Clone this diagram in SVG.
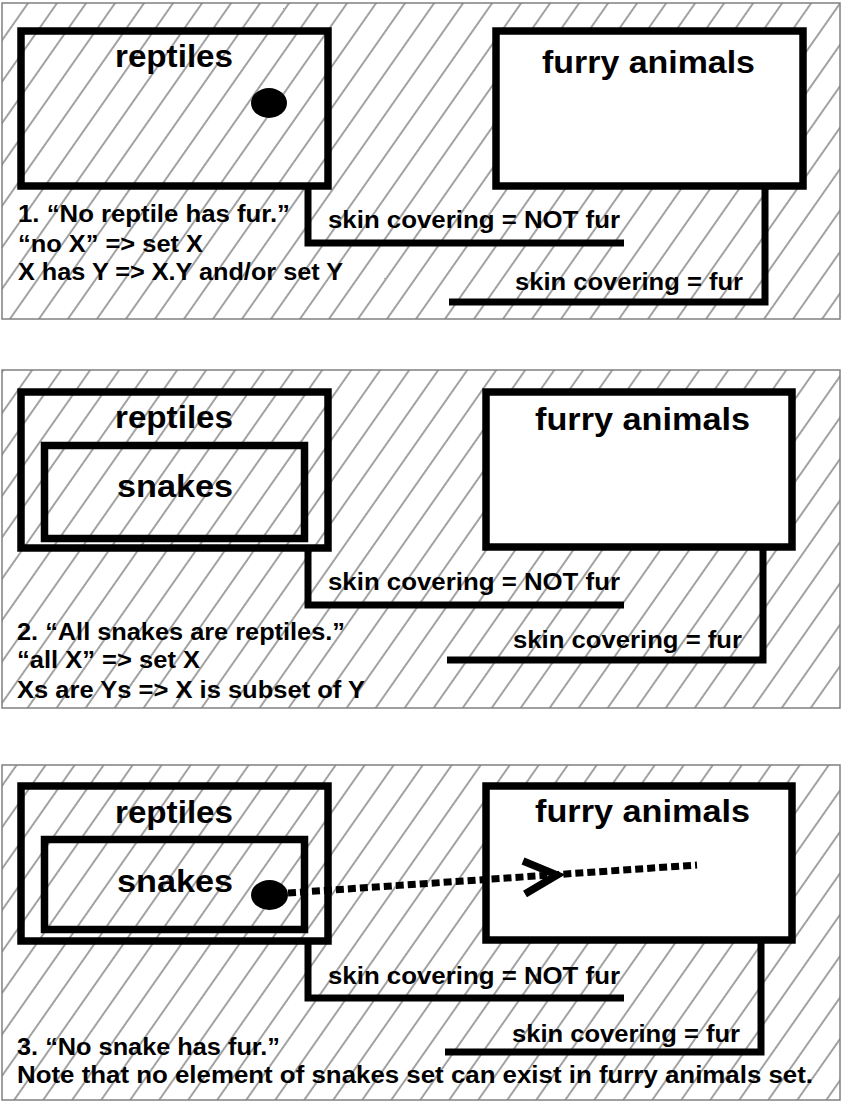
<svg xmlns="http://www.w3.org/2000/svg" width="842" height="1101" viewBox="0 0 842 1101">
<defs>
  <pattern id="hatch" patternUnits="userSpaceOnUse" width="23.76" height="20" patternTransform="rotate(35)">
    <line x1="1" y1="-2" x2="1" y2="22" stroke="#555" stroke-width="1.1"/>
  </pattern>
</defs>
<style>
  .panel { fill: url(#hatch); stroke: #808080; stroke-width: 1.5; }
  .set { fill: none; stroke: #000; stroke-width: 7.5; stroke-linejoin: miter; }
  .setw { fill: #fff; stroke: #000; stroke-width: 7.5; stroke-linejoin: miter; }
  .conn { fill: none; stroke: #000; stroke-width: 7; stroke-linejoin: miter; }
  .dots { fill: none; stroke: #000; stroke-width: 7; stroke-dasharray: 8 4; }
  .head { fill: none; stroke: #000; stroke-width: 7.5; stroke-linejoin: miter; stroke-linecap: butt; }
  text { font-family: "Liberation Sans", Arial, sans-serif; font-weight: bold; fill: #000; }
  .title { font-size: 31px; }
  .lbl { font-size: 23px; }
</style>

<g id="panel1">
  <rect class="panel" x="2" y="3" width="838" height="316"/>
</g>
<g id="panel2">
  <rect class="panel" x="2" y="370" width="838" height="338"/>
</g>
<g id="panel3">
  <rect class="panel" x="2" y="765" width="838" height="335"/>
</g>

<!-- Panel 1 nodes -->
<g id="p1-reptiles">
  <rect class="set" x="21" y="31" width="307" height="155"/>
  <text class="title" x="115" y="67" textLength="118" lengthAdjust="spacingAndGlyphs">reptiles</text>
  <ellipse cx="269" cy="103" rx="18" ry="15" fill="#000"/>
</g>
<g id="p1-furry">
  <rect class="setw" x="496" y="31" width="307" height="155"/>
  <text class="title" x="542" y="73" textLength="213" lengthAdjust="spacingAndGlyphs">furry animals</text>
</g>
<g id="p1-note">
  <text class="lbl" x="18" y="222" textLength="272" lengthAdjust="spacingAndGlyphs">1. “No reptile has fur.”</text>
  <text class="lbl" x="18" y="252" textLength="185" lengthAdjust="spacingAndGlyphs">“no X” =&gt; set X</text>
  <text class="lbl" x="18" y="280" textLength="325" lengthAdjust="spacingAndGlyphs">X has Y =&gt; X.Y and/or set Y</text>
</g>

<!-- Panel 2 nodes -->
<g id="p2-reptiles">
  <rect class="set" x="21" y="392" width="307" height="156"/>
  <text class="title" x="115" y="428" textLength="118" lengthAdjust="spacingAndGlyphs">reptiles</text>
</g>
<g id="p2-snakes">
  <rect class="set" x="44.5" y="445.5" width="260" height="93"/>
  <text class="title" x="117" y="497" textLength="116" lengthAdjust="spacingAndGlyphs">snakes</text>
</g>
<g id="p2-furry">
  <rect class="setw" x="486" y="392" width="306" height="155"/>
  <text class="title" x="535" y="430" textLength="215" lengthAdjust="spacingAndGlyphs">furry animals</text>
</g>
<g id="p2-note">
  <text class="lbl" x="17" y="640" textLength="328" lengthAdjust="spacingAndGlyphs">2. “All snakes are reptiles.”</text>
  <text class="lbl" x="17" y="668" textLength="183" lengthAdjust="spacingAndGlyphs">“all X” =&gt; set X</text>
  <text class="lbl" x="17" y="698" textLength="348" lengthAdjust="spacingAndGlyphs">Xs are Ys =&gt; X is subset of Y</text>
</g>

<!-- Panel 3 nodes -->
<g id="p3-reptiles">
  <rect class="set" x="21" y="786" width="307" height="155"/>
  <text class="title" x="115" y="823" textLength="118" lengthAdjust="spacingAndGlyphs">reptiles</text>
</g>
<g id="p3-snakes">
  <rect class="set" x="44.5" y="839.5" width="260" height="90"/>
  <text class="title" x="117" y="892" textLength="116" lengthAdjust="spacingAndGlyphs">snakes</text>
  <ellipse cx="269.5" cy="895" rx="18.5" ry="15" fill="#000"/>
</g>
<g id="p3-furry">
  <rect class="setw" x="486" y="786" width="306" height="154"/>
  <text class="title" x="535" y="822" textLength="215" lengthAdjust="spacingAndGlyphs">furry animals</text>
</g>
<g id="p3-note">
  <text class="lbl" x="17" y="1055" textLength="263" lengthAdjust="spacingAndGlyphs">3. “No snake has fur.”</text>
  <text class="lbl" x="17" y="1083" textLength="796" lengthAdjust="spacingAndGlyphs">Note that no element of snakes set can exist in furry animals set.</text>
</g>

<!-- Connectors -->
<g id="connectors">
  <path class="conn" d="M308,186 V243 H624"/>
  <path class="conn" d="M765,186 V302 H449"/>
  <text class="lbl" x="328" y="228" textLength="292" lengthAdjust="spacingAndGlyphs">skin covering = NOT fur</text>
  <text class="lbl" x="515" y="290" textLength="228" lengthAdjust="spacingAndGlyphs">skin covering = fur</text>

  <path class="conn" d="M308,548 V605 H624"/>
  <path class="conn" d="M763,547 V660 H447"/>
  <text class="lbl" x="328" y="590" textLength="292" lengthAdjust="spacingAndGlyphs">skin covering = NOT fur</text>
  <text class="lbl" x="513" y="648" textLength="229" lengthAdjust="spacingAndGlyphs">skin covering = fur</text>

  <path class="conn" d="M308,941 V998 H624"/>
  <path class="conn" d="M761,940 V1052 H445"/>
  <text class="lbl" x="328" y="984" textLength="292" lengthAdjust="spacingAndGlyphs">skin covering = NOT fur</text>
  <text class="lbl" x="512" y="1042" textLength="228" lengthAdjust="spacingAndGlyphs">skin covering = fur</text>

  <path class="dots" d="M288,893 L697,865"/>
  <polyline class="head" points="523,861 557,875 525,894"/>
</g>
</svg>
